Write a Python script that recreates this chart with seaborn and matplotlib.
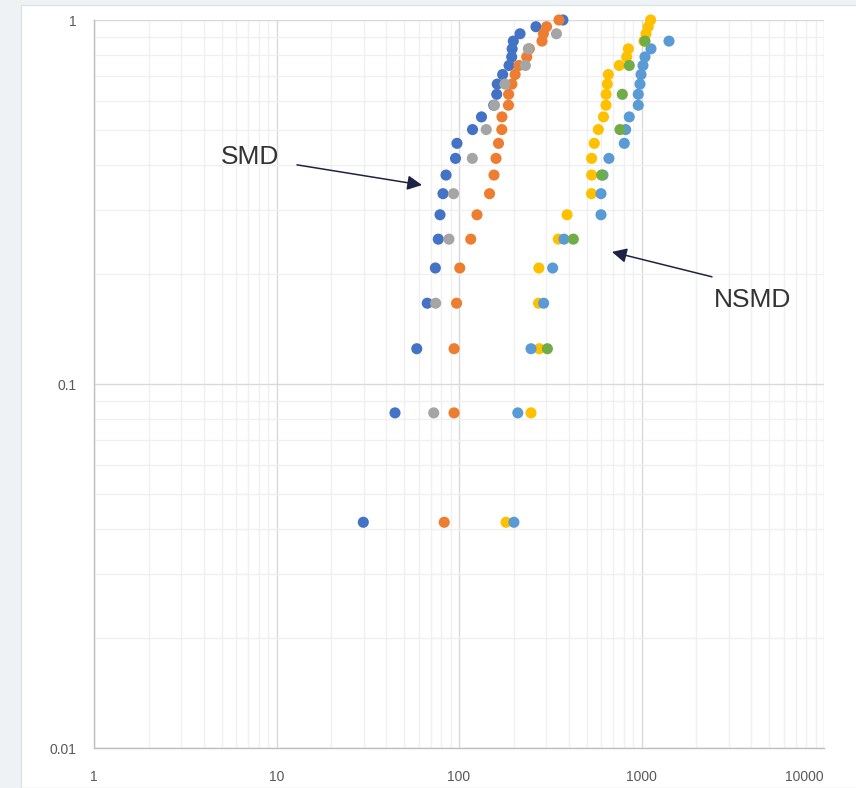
import numpy as np
import pandas as pd
import matplotlib
matplotlib.use("Agg")
import matplotlib.pyplot as plt
import seaborn as sns
from matplotlib.patches import Rectangle
from matplotlib.ticker import LogLocator, FixedLocator, NullFormatter

# ---------------- data ----------------
y24 = [0.0417, 0.0833, 0.125, 0.1667, 0.2083, 0.25, 0.2917, 0.3333, 0.375, 0.4167,
       0.4583, 0.5, 0.5417, 0.5833, 0.625, 0.6667, 0.7083, 0.75, 0.7917, 0.8333,
       0.875, 0.9167, 0.9583, 1.0]
y_gray = [0.0833, 0.1667, 0.25, 0.3333, 0.4167, 0.5, 0.5833, 0.6667, 0.75, 0.8333, 0.9167]
y_green = [0.125, 0.25, 0.375, 0.5, 0.625, 0.75, 0.875]

x_blue = [29.9, 44.6, 58.7, 67, 74.2, 77, 78.7, 81.7, 84.9, 95.7, 97.5, 118.6, 132.8,
          155, 161, 162, 173.5, 188, 194.4, 195.5, 198.4, 216, 264, 371]
x_orange = [83, 93.9, 94, 97, 101, 116, 125.5, 147, 155.5, 159.5, 164.6, 171.6, 172,
            186.6, 187, 195, 203, 213, 235, 243, 285, 290, 302, 353]
x_gray = [72.7, 74.5, 88.1, 93.3, 118.3, 141, 156.5, 178.6, 231, 239.8, 342]
x_yellow = [181, 248, 275.4, 272.7, 274, 350, 391, 532, 533, 533, 551, 580, 619, 639,
            640, 649.6, 658, 755, 829.5, 847, 1032, 1058, 1089, 1122]
x_lblue = [200, 210, 248, 291, 326, 376, 600, 600, 615, 663, 805, 819, 857, 960, 960,
           981, 994, 1019, 1045, 1127, 1415]
x_green = [305, 423, 605, 762, 785, 857, 1045]

series = ["S1", "S2", "S3", "S4", "S5", "S6"]
colors = ["#4472C4", "#ED7D31", "#A5A5A5", "#FFC000", "#5B9BD5", "#70AD47"]

x_ticks = [1, 10, 100, 1000, 10000]
x_tick_labels = ["1", "10", "100", "1000", "10000"]
y_ticks = [0.01, 0.1, 1]
y_tick_labels = ["0.01", "0.1", "1"]

frames = []
for name, xs, ys in zip(series,
                        [x_blue, x_orange, x_gray, x_yellow, x_lblue, x_green],
                        [y24, y24, y_gray, y24, y24[:len(x_lblue)], y_green]):
    frames.append(pd.DataFrame({"x": xs, "y": ys, "series": name}))
df = pd.concat(frames, ignore_index=True)

# ---------------- figure ----------------
sns.set_style("white")
plt.rcParams["font.family"] = ["Liberation Sans", "DejaVu Sans"]

fig = plt.figure(figsize=(8.56, 7.88), dpi=100)
fig.patch.set_facecolor("#eef2f4")
bg = Rectangle((21 / 856, 0), 1, (788 - 5) / 788, transform=fig.transFigure,
               facecolor="white", edgecolor="#dde2e5", lw=1, zorder=-10)
fig.add_artist(bg)

ax = fig.add_axes([94 / 856, 1 - 748 / 788, 730 / 856, 728 / 788])
ax.set_zorder(5)
ax.set_facecolor("white")

sns.scatterplot(data=df, x="x", y="y", hue="series", palette=colors,
                s=64, edgecolor="none", linewidth=0, legend=False, ax=ax, zorder=3)
for coll in ax.collections:
    coll.set_clip_on(False)

ax.set_xscale("log")
ax.set_yscale("log")
ax.set_xlim(1, 10000)
ax.set_ylim(0.01, 1)

ax.xaxis.set_major_locator(FixedLocator(x_ticks))
ax.set_xticklabels(x_tick_labels)
ax.yaxis.set_major_locator(FixedLocator(y_ticks))
ax.set_yticklabels(y_tick_labels)
ax.xaxis.set_minor_locator(LogLocator(base=10, subs=np.arange(2, 10)))
ax.yaxis.set_minor_locator(LogLocator(base=10, subs=np.arange(2, 10)))
ax.xaxis.set_minor_formatter(NullFormatter())
ax.yaxis.set_minor_formatter(NullFormatter())

ax.grid(which="major", color="#d9d9d9", lw=1.0, zorder=0)
ax.grid(which="minor", color="#f0f0f0", lw=1.0, zorder=0)
ax.set_axisbelow(True)

for side in ["top", "right"]:
    ax.spines[side].set_visible(False)
for side in ["left", "bottom"]:
    ax.spines[side].set_color("#bfbfbf")
    ax.spines[side].set_linewidth(1.0)

ax.tick_params(axis="both", which="major", length=4.5, width=0.8, color="#bfbfbf",
               labelcolor="#595959", labelsize=10)
ax.tick_params(axis="x", which="major", pad=11)
ax.tick_params(axis="y", which="major", pad=8)
ax.tick_params(which="minor", length=0)
ax.get_xticklabels()[-1].set_horizontalalignment("right")
ax.set_xlabel("")
ax.set_ylabel("")

arrow_kw = dict(arrowstyle="-|>", color="#1f2145", lw=1.1, mutation_scale=22,
                shrinkA=0, shrinkB=0)
ax.annotate("", xy=(62.7, 0.352), xytext=(12.95, 0.400), arrowprops=arrow_kw)
ax.annotate("", xy=(689, 0.2306), xytext=(2433, 0.197), arrowprops=arrow_kw)
ax.text(7.16, 0.420, "SMD", fontsize=19, color="#333333", ha="center", va="center")
ax.text(4083, 0.170, "NSMD", fontsize=19, color="#333333", ha="center", va="center")

fig.savefig("out.png", dpi=100, facecolor=fig.get_facecolor())
